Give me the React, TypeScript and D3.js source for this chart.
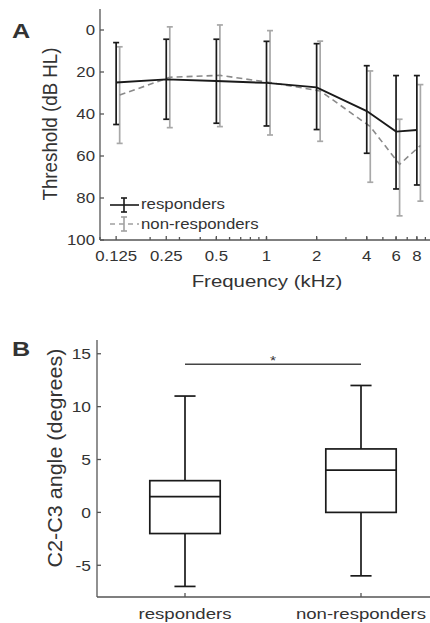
import React from 'react';
import * as d3 from 'd3';

const W = 430;
const H = 623;
const FONT = '"Liberation Sans", Arial, Helvetica, sans-serif';
const SX = 1.2; // the reference is slightly stretched horizontally
const INK = '#333';

// panel A: audiogram
const freqs = [0.125, 0.25, 0.5, 1, 2, 4, 6, 8];
const freqTickLabels = ['0.125', '0.25', '0.5', '1', '2', '4', '6', '8'];
const respMean = [25, 23.5, 24.3, 25.2, 27.3, 38.6, 48.4, 47.6];
const respTop = [6, 4.4, 4.4, 5.4, 6.5, 17, 21.7, 21.7];
const respBottom = [45, 42.5, 44.4, 45.7, 47.4, 58.7, 75.7, 73.8];
const nonMean = [31, 22.5, 21.6, 25, 29, 46, 64, 55];
const nonTop = [8, -1.5, -2.4, 0.3, 5.3, 19.5, 42.5, 26];
const nonBottom = [54, 46.5, 46, 50, 53, 72.5, 88.5, 81.5];
const thresholdTicks = [0, 20, 40, 60, 80, 100];

// panel B: box plots
const groups = ['responders', 'non-responders'];
const whiskerLow = [-7, -6];
const q1 = [-2, 0];
const median = [1.5, 4];
const q3 = [3, 6];
const whiskerHigh = [11, 12];
const angleTicks = [-5, 0, 5, 10, 15];
const sigLevel = 14;

type TxtProps = {
  x: number; y: number; size: number; anchor?: string; rotate?: boolean;
  weight?: string; len?: number; dy?: string; children: React.ReactNode;
};

const Txt = ({ x, y, size, anchor = 'start', rotate = false, weight = 'normal', len, dy, children }: TxtProps) => (
  <text
    transform={`translate(${x},${y}) scale(${SX},1)${rotate ? ' rotate(-90)' : ''}`}
    fontSize={size}
    fontFamily={FONT}
    fontWeight={weight}
    textAnchor={anchor}
    fill={INK}
    dy={dy}
    textLength={len}
    lengthAdjust={len ? 'spacingAndGlyphs' : undefined}
  >
    {children}
  </text>
);

const PanelA = () => {
  const x = d3.scaleLog().domain([0.1, 10]).range([100, 433]);
  const y = d3.scaleLinear().domain([-10, 100]).range([9, 240]);
  const shift = 1.05; // non-responders drawn slightly to the right
  const [x0, x1] = x.range();
  const [yTop, yBot] = [y(-10), y(100)];

  const respLine = d3.line<number>().x((_, i) => x(freqs[i])).y(d => y(d))(respMean) || '';
  const nonLine = d3.line<number>().x((_, i) => x(freqs[i] * shift)).y(d => y(d))(nonMean) || '';

  const minor = x.ticks();
  const cap = 3;

  return (
    <g>
      <Txt x={12} y={38} size={21} weight="bold">A</Txt>

      {/* error bars */}
      {freqs.map((f, i) => {
        const cx = x(f * shift);
        return (
          <g key={'n' + f} stroke="#a8a8a8" strokeWidth={1.7}>
            <line x1={cx} x2={cx} y1={y(nonTop[i])} y2={y(nonBottom[i])} />
            <line x1={cx - cap} x2={cx + cap} y1={y(nonTop[i])} y2={y(nonTop[i])} />
            <line x1={cx - cap} x2={cx + cap} y1={y(nonBottom[i])} y2={y(nonBottom[i])} />
          </g>
        );
      })}
      <path d={nonLine} fill="none" stroke="#8a8a8a" strokeWidth={1.6} strokeDasharray="6,4" />
      {freqs.map((f, i) => {
        const cx = x(f);
        return (
          <g key={'r' + f} stroke="#1a1a1a" strokeWidth={1.7}>
            <line x1={cx} x2={cx} y1={y(respTop[i])} y2={y(respBottom[i])} />
            <line x1={cx - cap} x2={cx + cap} y1={y(respTop[i])} y2={y(respTop[i])} />
            <line x1={cx - cap} x2={cx + cap} y1={y(respBottom[i])} y2={y(respBottom[i])} />
          </g>
        );
      })}
      <path d={respLine} fill="none" stroke="#1a1a1a" strokeWidth={1.9} />

      {/* axes */}
      <g stroke="#555" strokeWidth={1.3}>
        <line x1={x0} x2={x0} y1={yTop} y2={yBot} />
        <line x1={x0} x2={W} y1={yBot} y2={yBot} />
        {thresholdTicks.map(t => (
          <line key={t} x1={x0} x2={x0 + 4} y1={y(t)} y2={y(t)} />
        ))}
        {minor.map(t => (
          <line key={'m' + t} x1={x(t)} x2={x(t)} y1={yBot} y2={yBot - 3} />
        ))}
        {freqs.map(t => (
          <line key={'M' + t} x1={x(t)} x2={x(t)} y1={yBot} y2={yBot - 4} />
        ))}
      </g>
      {thresholdTicks.map(t => (
        <Txt key={t} x={x0 - 5} y={y(t)} size={14} anchor="end" dy="0.36em">{t}</Txt>
      ))}
      {freqs.map((f, i) => (
        <Txt key={f} x={x(f)} y={261} size={14} anchor="middle">{freqTickLabels[i]}</Txt>
      ))}
      <Txt x={267} y={287} size={17} anchor="middle">Frequency (kHz)</Txt>
      <Txt x={57} y={124} size={17} anchor="middle" rotate len={153}>Threshold (dB HL)</Txt>

      {/* legend */}
      <g stroke="#1a1a1a" strokeWidth={1.6}>
        <line x1={110} x2={139} y1={205} y2={205} />
        <line x1={124} x2={124} y1={198} y2={212} />
        <line x1={121} x2={127} y1={198} y2={198} />
        <line x1={121} x2={127} y1={212} y2={212} />
      </g>
      <g stroke="#a0a0a0" strokeWidth={1.6}>
        <line x1={110} x2={139} y1={224} y2={224} strokeDasharray="5,4" />
        <line x1={124} x2={124} y1={217} y2={231} />
        <line x1={121} x2={127} y1={217} y2={217} />
        <line x1={121} x2={127} y1={231} y2={231} />
      </g>
      <Txt x={141} y={209} size={14}>responders</Txt>
      <Txt x={141} y={229} size={14}>non-responders</Txt>
    </g>
  );
};

const PanelB = () => {
  const x = d3.scaleLinear().domain([0.5, 2.5]).range([97, 449]);
  const y = d3.scaleLinear().domain([-8, 16.3]).range([597, 340]);
  const [yBot, yTop] = y.range();
  const x0 = x(0.5);
  const half = x(0.2) - x(0);
  const capHalf = x(0.06) - x(0);

  return (
    <g>
      <Txt x={12} y={356} size={21} weight="bold">B</Txt>

      {groups.map((g, i) => {
        const cx = x(i + 1);
        return (
          <g key={g} stroke="#1a1a1a" strokeWidth={1.7} fill="none">
            <line x1={cx} x2={cx} y1={y(whiskerHigh[i])} y2={y(q3[i])} />
            <line x1={cx} x2={cx} y1={y(q1[i])} y2={y(whiskerLow[i])} />
            <line x1={cx - capHalf} x2={cx + capHalf} y1={y(whiskerHigh[i])} y2={y(whiskerHigh[i])} />
            <line x1={cx - capHalf} x2={cx + capHalf} y1={y(whiskerLow[i])} y2={y(whiskerLow[i])} />
            <rect x={cx - half} y={y(q3[i])} width={half * 2} height={y(q1[i]) - y(q3[i])} />
            <line x1={cx - half} x2={cx + half} y1={y(median[i])} y2={y(median[i])} />
          </g>
        );
      })}

      {/* significance */}
      <line x1={x(1)} x2={x(2)} y1={y(sigLevel)} y2={y(sigLevel)} stroke="#444" strokeWidth={1.5} />
      <Txt x={(x(1) + x(2)) / 2} y={y(sigLevel) + 1} size={13} anchor="middle">*</Txt>

      {/* axes */}
      <g stroke="#555" strokeWidth={1.3}>
        <line x1={x0} x2={x0} y1={yTop} y2={yBot} />
        <line x1={x0} x2={W} y1={yBot} y2={yBot} />
        {angleTicks.map(t => (
          <line key={t} x1={x0} x2={x0 + 4} y1={y(t)} y2={y(t)} />
        ))}
        {groups.map((g, i) => (
          <line key={g} x1={x(i + 1)} x2={x(i + 1)} y1={yBot} y2={yBot - 4} />
        ))}
      </g>
      {angleTicks.map(t => (
        <Txt key={t} x={x0 - 6} y={y(t)} size={14.5} anchor="end" dy="0.36em">{t}</Txt>
      ))}
      {groups.map((g, i) => (
        <Txt key={g} x={x(i + 1)} y={619} size={15.5} anchor="middle">{g}</Txt>
      ))}
      <Txt x={62} y={458} size={17} anchor="middle" rotate len={219}>C2-C3 angle (degrees)</Txt>
    </g>
  );
};

export default function App() {
  return (
    <svg
      width={W}
      height={H}
      style={{ position: 'absolute', left: 0, top: 0, background: '#fff' }}
    >
      <rect width={W} height={H} fill="#fff" />
      <PanelA />
      <PanelB />
    </svg>
  );
}
